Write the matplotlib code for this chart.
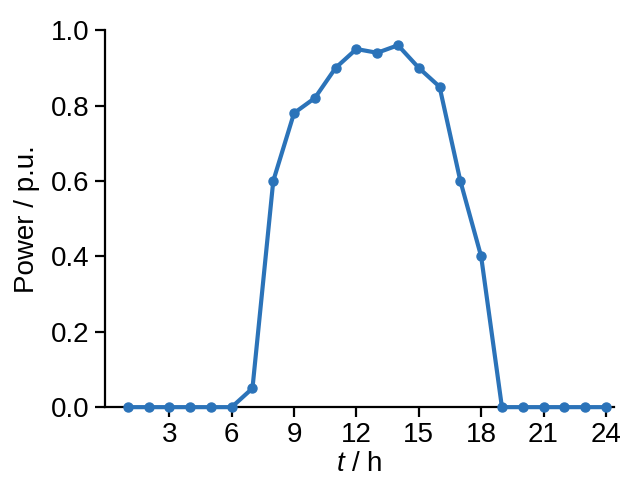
import matplotlib
matplotlib.use('Agg')
import matplotlib.pyplot as plt

hours = list(range(1, 25))
power = [0, 0, 0, 0, 0, 0, 0.05, 0.60, 0.78, 0.82, 0.90, 0.95,
         0.94, 0.96, 0.90, 0.85, 0.60, 0.40, 0, 0, 0, 0, 0, 0]
xticks = [3, 6, 9, 12, 15, 18, 21, 24]
yticks = [0.0, 0.2, 0.4, 0.6, 0.8, 1.0]

plt.rcParams['font.family'] = 'Liberation Sans'
plt.rcParams['mathtext.fontset'] = 'custom'
plt.rcParams['mathtext.rm'] = 'Liberation Sans'
plt.rcParams['mathtext.it'] = 'Liberation Sans:italic'

fig = plt.figure(figsize=(6.28, 4.79), dpi=100)
ax = fig.add_axes([0.167, 0.150, 0.811, 0.787])

ax.plot(hours, power, color='#2b73b9', linewidth=3.0, marker='o', markersize=6.5,
        clip_on=False, zorder=3)

ax.set_xlim(-0.1, 24.4)
ax.set_ylim(0, 1.0)
ax.set_xticks(xticks)
ax.set_yticks(yticks)
ax.set_yticklabels([f'{v:.1f}' for v in yticks])

for s in ['top', 'right']:
    ax.spines[s].set_visible(False)
for s in ['left', 'bottom']:
    ax.spines[s].set_linewidth(1.6)
ax.tick_params(direction='out', length=7, width=1.6, labelsize=20, pad=4)

ax.set_xlabel(r'$t$ / h', fontsize=20, labelpad=2)
ax.set_ylabel('Power / p.u.', fontsize=20, labelpad=8)

fig.savefig('out.png', dpi=100)
